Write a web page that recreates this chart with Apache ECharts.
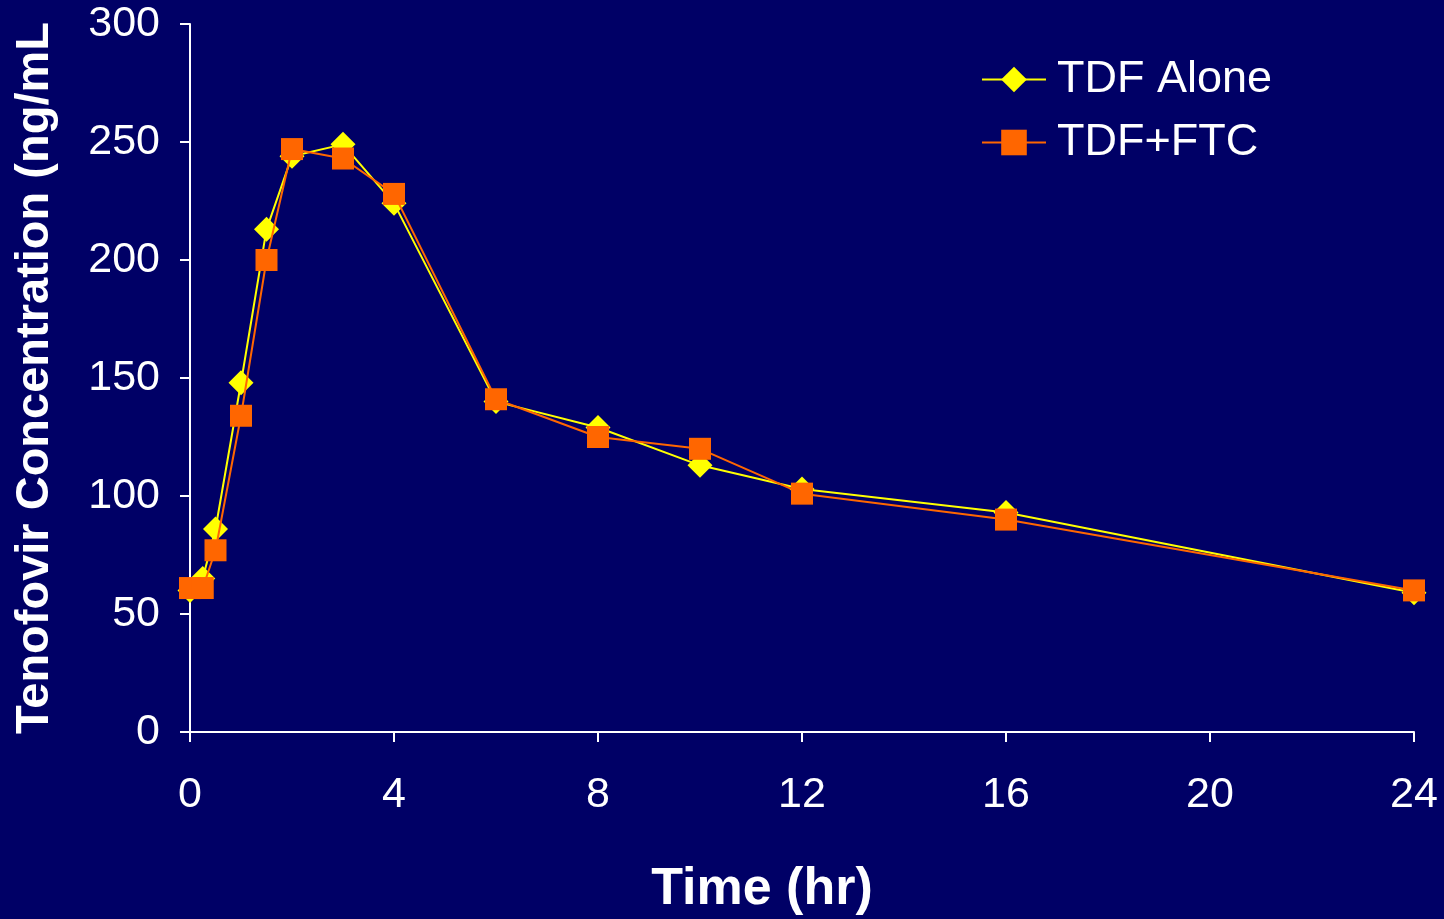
<!DOCTYPE html>
<html><head><meta charset="utf-8">
<script src="https://cdn.jsdelivr.net/npm/echarts@6/dist/echarts.min.js"></script>
<style>html,body{margin:0;padding:0;background:#000066}#c{width:1444px;height:919px}</style>
</head><body><div id="c"></div>
<script>
const times = [0, 0.25, 0.5, 1, 1.5, 2, 3, 4, 6, 8, 10, 12, 16, 24];
const tdfAlone = [60, 65, 86, 148, 213, 244, 249, 224, 140, 129, 113, 103, 93, 59];
const tdfFtc = [61, 61, 77, 134, 200, 247, 243, 228, 141, 125, 120, 101, 90, 60];
const xTicks = [0, 4, 8, 12, 16, 20, 24];
const yTicks = [0, 50, 100, 150, 200, 250, 300];
const seriesNames = ['TDF Alone', 'TDF+FTC'];

const font = 'Liberation Sans, Arial, sans-serif';
const chart = echarts.init(document.getElementById('c'));
chart.setOption({
  backgroundColor: '#000066',
  animation: false,
  grid: {left: 190, right: 30, top: 24, bottom: 187, containLabel: false, outerBoundsMode: 'none'},
  legend: {
    orient: 'vertical', left: 976, top: 52, itemGap: 18,
    itemWidth: 64, itemHeight: 32,
    textStyle: {color: '#ffffff', fontSize: 45, fontFamily: font, padding: [0,0,0,6]},
    data: seriesNames
  },
  xAxis: {
    type: 'value', min: 0, max: 24, interval: 4,
    name: 'Time (hr)', nameLocation: 'middle', nameGap: 132,
    nameTextStyle: {color: '#ffffff', fontSize: 52, fontWeight: 'bold', fontFamily: font, padding: [0, 80, 0, 0]},
    axisLine: {show: true, onZero: false, lineStyle: {color: '#ffffff', width: 2}},
    axisTick: {show: true, length: 10, lineStyle: {color: '#ffffff', width: 2}},
    axisLabel: {color: '#ffffff', fontSize: 43, fontFamily: font, margin: 42,
      formatter: v => xTicks.includes(v) ? String(v) : ''},
    splitLine: {show: false}
  },
  yAxis: {
    type: 'value', min: 0, max: 300, interval: 50,
    name: 'Tenofovir Concentration (ng/mL', nameLocation: 'middle', nameGap: 131,
    nameTextStyle: {color: '#ffffff', fontSize: 47, fontWeight: 'bold', fontFamily: font},
    axisLine: {show: true, lineStyle: {color: '#ffffff', width: 2}},
    axisTick: {show: true, length: 10, lineStyle: {color: '#ffffff', width: 2}},
    axisLabel: {color: '#ffffff', fontSize: 43, fontFamily: font, margin: 30,
      formatter: v => yTicks.includes(v) ? String(v) : ''},
    splitLine: {show: false}
  },
  series: [
    {
      name: seriesNames[0], type: 'line', symbol: 'diamond', symbolSize: 25,
      data: times.map((t, i) => [t, tdfAlone[i]]),
      lineStyle: {color: '#ffff00', width: 2},
      itemStyle: {color: '#ffff00'}, z: 2
    },
    {
      name: seriesNames[1], type: 'line', symbol: 'rect', symbolSize: 22,
      data: times.map((t, i) => [t, tdfFtc[i]]),
      lineStyle: {color: '#ff6600', width: 2},
      itemStyle: {color: '#ff6600'}, z: 3
    }
  ]
});
</script></body></html>
